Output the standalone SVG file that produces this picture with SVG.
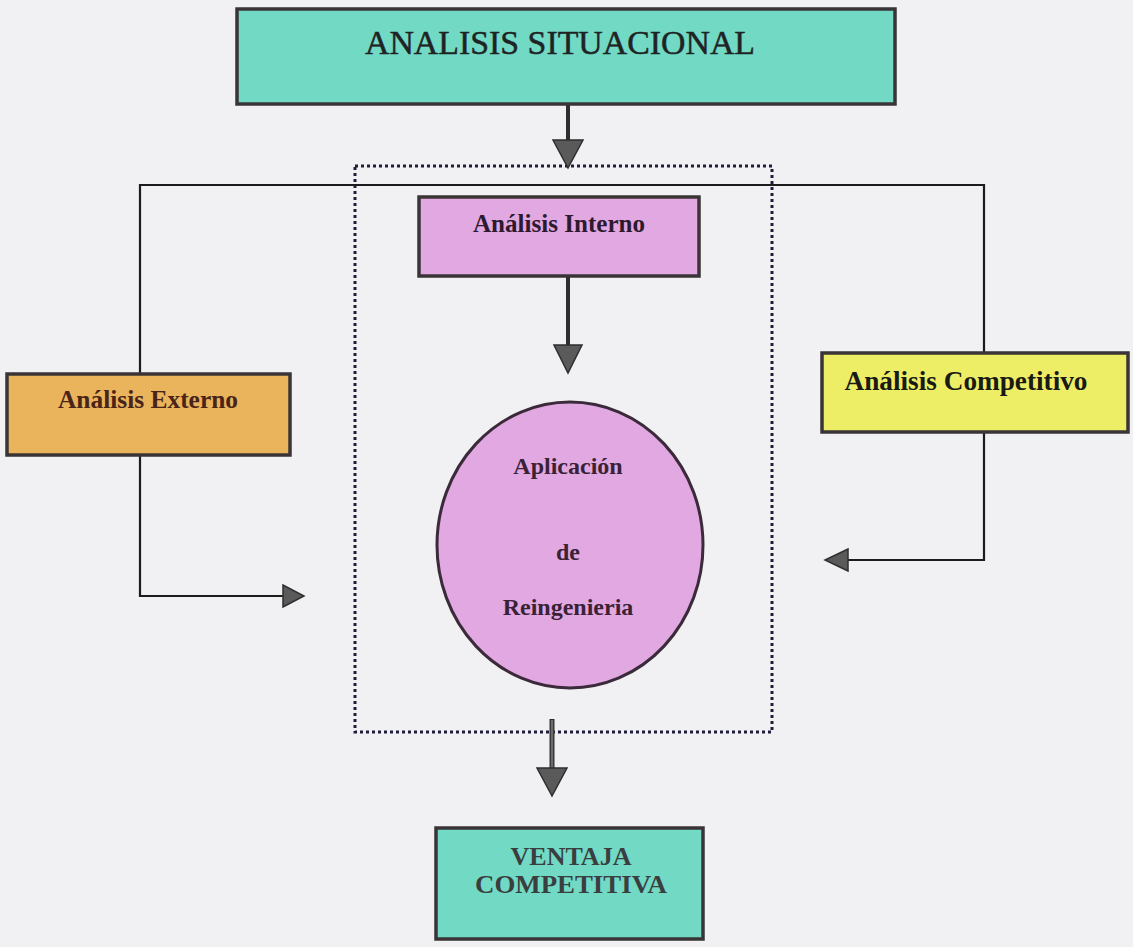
<svg xmlns="http://www.w3.org/2000/svg" width="1133" height="947" viewBox="0 0 1133 947">
  <defs>
    <style>
      .box { stroke: #3a3436; stroke-width: 3.5; }
      .lbl { font-family: "Liberation Serif", "Times New Roman", serif; font-weight: bold; text-anchor: middle; }
      .title { font-weight: normal; }
      .wire { fill: none; stroke: #1c1c1c; stroke-width: 2.2; }
      .shaft { stroke: #2e2e2e; stroke-width: 4; }
      .head { fill: #5a5a5a; stroke: #2e2e2e; stroke-width: 1.5; stroke-linejoin: miter; }
    </style>
  </defs>

  <rect width="1133" height="947" fill="#f1f1f3"/>

  <!-- dotted frame around the reengineering core -->
  <rect id="frame" x="355" y="166" width="417" height="566" fill="none" stroke="#1e1e3a" stroke-width="3" stroke-dasharray="3 3"/>

  <g id="connectors">
    <!-- title down into the frame -->
    <line class="shaft" x1="568" y1="105" x2="568" y2="142"/>
    <polygon class="head" points="553,140 583,140 568,168"/>
    <!-- branch line feeding the external / competitive boxes -->
    <polyline class="wire" points="140,374 140,185 984,185 984,353"/>
    <!-- internal analysis down to the circle -->
    <line class="shaft" x1="568" y1="277" x2="568" y2="347"/>
    <polygon class="head" points="554,345 582,345 568,373"/>
    <!-- external analysis to the right -->
    <polyline class="wire" points="140,455 140,596 284,596"/>
    <polygon class="head" points="283,585 283,607 304,596"/>
    <!-- competitive analysis to the left -->
    <polyline class="wire" points="984,432 984,560 846,560"/>
    <polygon class="head" points="848,549 848,571 825,560"/>
    <!-- circle down to the result -->
    <line x1="552" y1="719" x2="552" y2="770" stroke="#2e2e2e" stroke-width="5"/>
    <line x1="552" y1="720" x2="552" y2="770" stroke="#6a6a6a" stroke-width="2.5"/>
    <polygon class="head" points="537,768 567,768 552,796"/>
  </g>

  <g id="analisis-situacional">
    <rect class="box" x="237" y="9" width="658" height="95" fill="#72d9c5"/>
    <text class="lbl title" x="560" y="54" font-size="34" fill="#1e2424" stroke="#1e2424" stroke-width="0.5" textLength="390" lengthAdjust="spacingAndGlyphs">ANALISIS SITUACIONAL</text>
  </g>

  <g id="analisis-interno">
    <rect class="box" x="419" y="197" width="280" height="79" fill="#e2a8e2"/>
    <text class="lbl" x="559" y="232" font-size="25" fill="#2e1a2e" textLength="172" lengthAdjust="spacingAndGlyphs">Análisis Interno</text>
  </g>

  <g id="analisis-externo">
    <rect class="box" x="7" y="374" width="283" height="81" fill="#e9b45c"/>
    <text class="lbl" x="148" y="408" font-size="25" fill="#4a2418" textLength="180" lengthAdjust="spacingAndGlyphs">Análisis Externo</text>
  </g>

  <g id="analisis-competitivo">
    <rect class="box" x="822" y="353" width="306" height="79" fill="#eeee66"/>
    <text class="lbl" x="966" y="390" font-size="27" fill="#1a1a14" textLength="243" lengthAdjust="spacingAndGlyphs">Análisis Competitivo</text>
  </g>

  <g id="aplicacion-reingenieria">
    <ellipse cx="570" cy="545" rx="133" ry="143" fill="#e2a8e2" stroke="#3a2a3a" stroke-width="3"/>
    <text class="lbl" x="568" y="474" font-size="24" fill="#3a2236">Aplicación</text>
    <text class="lbl" x="568" y="560" font-size="24" fill="#3a2236">de</text>
    <text class="lbl" x="568" y="615" font-size="24" fill="#3a2236">Reingenieria</text>
  </g>

  <g id="ventaja-competitiva">
    <rect class="box" x="436" y="828" width="267" height="111" fill="#72d9c5"/>
    <text class="lbl" x="571" y="865" font-size="26" fill="#3a3e3e">VENTAJA</text>
    <text class="lbl" x="571" y="893" font-size="26" fill="#3a3e3e" textLength="192" lengthAdjust="spacingAndGlyphs">COMPETITIVA</text>
  </g>
</svg>
